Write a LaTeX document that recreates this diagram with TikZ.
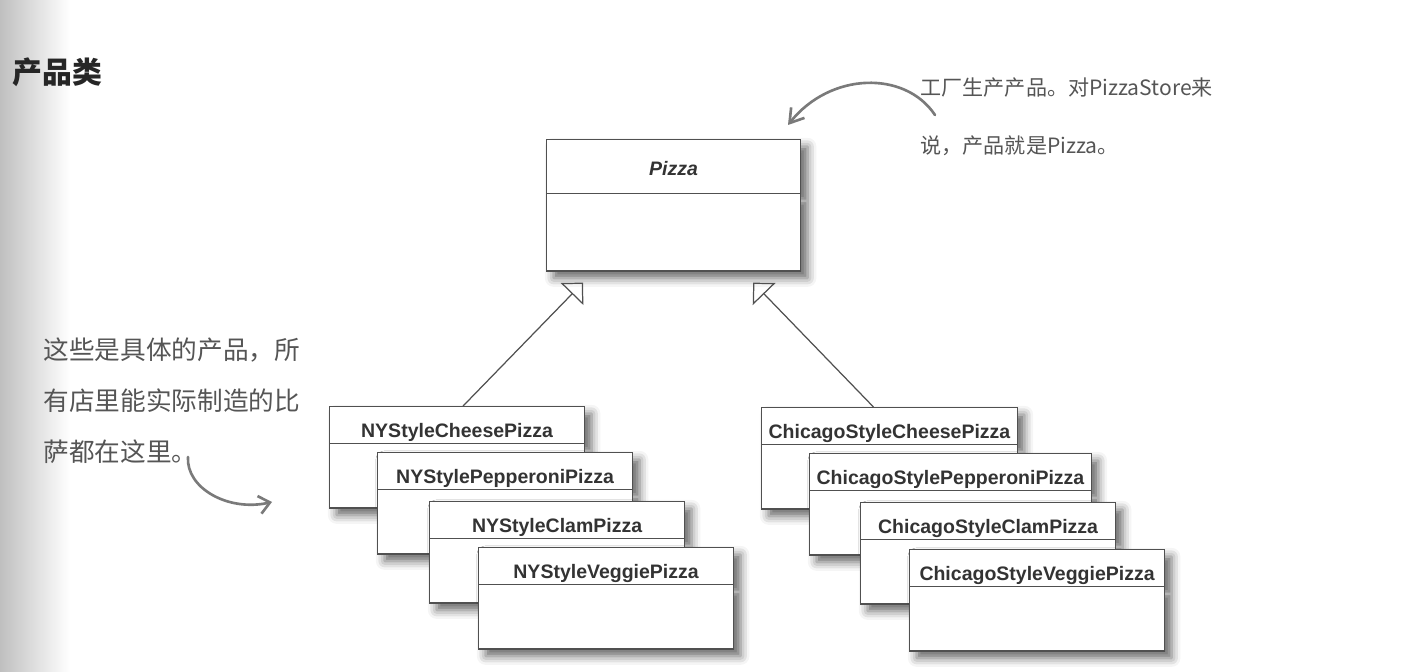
\documentclass[tikz,border=0pt]{standalone}
\usepackage{fontspec}
\setsansfont{Liberation Sans}
\newfontfamily\cjk{Noto Sans CJK SC}
\usetikzlibrary{arrows.meta, positioning, shapes.multipart, shadows.blur}

\definecolor{linegray}{HTML}{505050}
\definecolor{textgray}{HTML}{333333}
\definecolor{inkgray}{HTML}{555555}
\definecolor{handgray}{HTML}{7A7A7A}

\newcommand{\classname}[1]{\rule[-0.12cm]{0pt}{0.72cm}#1\nodepart{two}\rule{0pt}{1.26cm}}

\begin{document}
\begin{tikzpicture}[x=0.02cm, y=-0.02cm, >=Stealth, line width=0.7pt,
  classbox/.style={draw=linegray, fill=white, rectangle split, rectangle split parts=2,
    minimum width=5.1cm, inner xsep=0.14cm, inner ysep=0pt, text=textgray, anchor=north west,
    font=\sffamily\bfseries\fontsize{11.1}{13}\selectfont,
    blur shadow={shadow xshift=4pt, shadow yshift=-4pt, shadow blur radius=5pt, shadow opacity=60}},
  note/.style={align=left, inner sep=0pt, text=inkgray, anchor=west},
  inherit/.style={draw=linegray, -{Triangle[open, length=9pt, width=18pt]}},
  hand/.style={draw=handgray, line width=1.5pt, line cap=round}]

  \useasboundingbox (0,0) rectangle (1418,672);
  \shade[left color=black!25, right color=white] (0,0) rectangle (70,672);

  % Nodes
  \node (title) [anchor=west, inner sep=0pt, text=black!85, font=\cjk\bfseries\fontsize{17}{17}\selectfont] at (12,72) {产品类};

  \node (pizza) [classbox, minimum width=5.08cm] at (546,139) {\rule[-0.36cm]{0pt}{1.06cm}\itshape Pizza\nodepart{two}\rule{0pt}{1.52cm}};

  \node (nyc)  [classbox] at (329,406) {\classname{NYStyleCheesePizza}};
  \node (nyp)  [classbox] at ([shift={(48,46)}]nyc.north west) {\classname{NYStylePepperoniPizza}};
  \node (nycl) [classbox] at ([shift={(52,49)}]nyp.north west) {\classname{NYStyleClamPizza}};
  \node (nyv)  [classbox] at ([shift={(49,46)}]nycl.north west) {\classname{NYStyleVeggiePizza}};

  \node (chc)  [classbox] at (761,407) {\classname{ChicagoStyleCheesePizza}};
  \node (chp)  [classbox] at ([shift={(48,46)}]chc.north west) {\classname{ChicagoStylePepperoniPizza}};
  \node (chcl) [classbox] at ([shift={(51,49)}]chp.north west) {\classname{ChicagoStyleClamPizza}};
  \node (chv)  [classbox] at ([shift={(49,47)}]chcl.north west) {\classname{ChicagoStyleVeggiePizza}};

  \node (factnote) [note, font=\cjk\fontsize{12}{33}\selectfont] at (920,117) {工厂生产产品。对PizzaStore来\\说，产品就是Pizza。};
  \node (concnote) [note, font=\cjk\fontsize{14.6}{29}\selectfont] at (43,401) {这些是具体的产品，所\\有店里能实际制造的比\\萨都在这里。};

  \coordinate (topfrom) at (935,115);
  \coordinate (topto) at (788,125);
  \coordinate (leftfrom) at (188,457);
  \coordinate (leftto) at (272,502);

  % Edges
  \draw[inherit] ([xshift=0.12cm]nyc.north) -- ([shift={(37,11)}]pizza.south west);
  \draw[inherit] ([xshift=-0.32cm]chc.north) -- ([shift={(-48,11)}]pizza.south east);

  \draw[hand, -{Straight Barb[angle=65:9pt]}] (topfrom) .. controls (905,70) and (830,72) .. (topto);
  \draw[hand, -{Straight Barb[angle=80:8pt]}] (leftfrom) .. controls (186,488) and (228,512) .. (leftto);

\end{tikzpicture}
\end{document}
